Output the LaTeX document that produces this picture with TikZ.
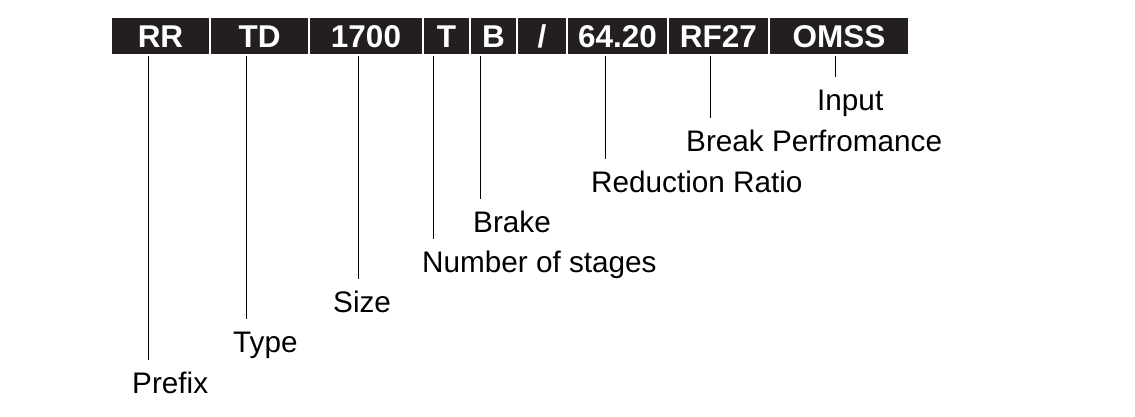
\documentclass[tikz,border=0pt]{standalone}
\usepackage{fontspec}
\setmainfont{Liberation Sans}
\usepackage{xcolor}
\usepackage{tikz}
\usetikzlibrary{positioning,calc}

\definecolor{bardark}{HTML}{231F20}

\begin{document}
\begin{tikzpicture}[x=1pt,y=1pt,
    cell/.style={draw=white,line width=1.5pt,fill=bardark,text=white,
      font=\fontsize{31.5}{32}\selectfont\bfseries,inner sep=0pt,
      minimum height=38pt,text height=22.6pt,text depth=0pt},
    lab/.style={font=\fontsize{29.7}{30}\selectfont,inner xsep=0pt,
      inner ysep=11.5pt,text height=21pt,text depth=0pt,anchor=base west},
    lead/.style={draw=black,line width=0.9pt}]
  \useasboundingbox (0,0) rectangle (1135,-416);
  % code bar
  \foreach \c/\l/\r/\t in {rr/111/210/RR, td/210/309/TD, sz/309/423/1700,
      st/423/470/T, br/470/517/B, sl/517/567/{/}, rt/567/668/64.20,
      bp/668/769/RF27, in/769/909/OMSS}{
    \node[cell,minimum width={(\r-\l)*1pt}] (c\c) at ({(\l+\r)/2},-36) {\t};
  }
  % meanings
  \foreach \c/\lx/\tx/\yb/\t in {rr/148/132/393/Prefix, td/246/233/352/Type,
      sz/358/333/312/Size, st/433/422/272/Number of stages,
      br/480/473/232/Brake, rt/605/591/192/Reduction Ratio,
      bp/710/686/151/Break Perfromance, in/835/817/110/Input}{
    \node[lab] (l\c) at (\tx,-\yb) {\t};
    \draw[lead] (\lx,0 |- c\c.south) -- (\lx,0 |- l\c.north);
  }
\end{tikzpicture}
\end{document}
